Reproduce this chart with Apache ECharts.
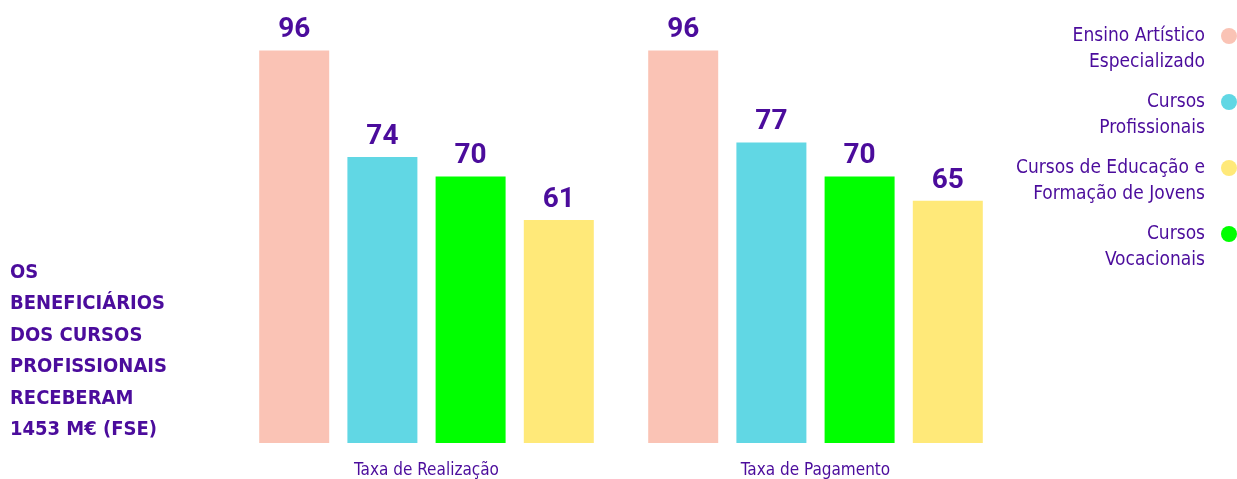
<!DOCTYPE html>
<html>
<head>
<meta charset="utf-8">
<script src="https://cdn.jsdelivr.net/npm/echarts@6/dist/echarts.min.js"></script>
<style>
html, body { margin: 0; padding: 0; background: #fff; }
#chart { width: 1237px; height: 479px; }
</style>
</head>
<body>
<div id="chart"></div>
<script>
// data
var categories = ['Taxa de Realização', 'Taxa de Pagamento'];
var seriesNames = [
    'Ensino Artístico\nEspecializado',
    'Cursos\nProfissionais',
    'Cursos\nVocacionais',
    'Cursos de Educação e\nFormação de Jovens'
];
var ensinoArtistico = [96, 96];
var cursosProfissionais = [74, 77];
var cursosVocacionais = [70, 70];
var cursosEducacao = [61, 65];
var legendOrder = [seriesNames[0], seriesNames[1], seriesNames[3], seriesNames[2]];
var sideText = 'OS\nBENEFICIÁRIOS\nDOS CURSOS\nPROFISSIONAIS\nRECEBERAM\n1453 M€ (FSE)';

var purple = '#4b0c9c';
var narrow = "'Liberation Sans Narrow', 'DejaVu Sans Condensed', sans-serif";
var colors = ['#fac3b5', '#61d7e4', '#00ff00', '#ffe979'];

var chart = echarts.init(document.getElementById('chart'), null, { renderer: 'canvas' });

function bar(name, data, color) {
    return {
        name: name,
        type: 'bar',
        data: data,
        barWidth: 70,
        barGap: '26%',
        itemStyle: { color: color },
        label: {
            show: true,
            position: 'top',
            distance: 6,
            color: purple,
            fontFamily: 'Roboto',
            fontWeight: 'bold',
            fontSize: 28
        }
    };
}

var option = {
    animation: false,
    backgroundColor: '#fff',
    grid: { left: 232, right: 227, top: 31, bottom: 35 },
    xAxis: {
        type: 'category',
        data: categories,
        axisLine: { show: false },
        axisTick: { show: false },
        axisLabel: {
            color: purple,
            fontFamily: narrow,
            fontSize: 17,
            margin: 19
        }
    },
    yAxis: {
        type: 'value',
        min: 15,
        max: 100,
        show: false
    },
    legend: {
        data: legendOrder,
        orient: 'vertical',
        right: 0,
        top: -3,
        padding: 0,
        align: 'right',
        icon: 'circle',
        itemWidth: 16,
        itemHeight: 16,
        itemGap: -12,
        // empty first line keeps the dot level with the first text line
        formatter: function (name) { return ' \n' + name; },
        textStyle: {
            color: purple,
            fontFamily: narrow,
            fontSize: 19,
            lineHeight: 26,
            padding: [0, 11, 0, 0]
        }
    },
    graphic: [{
        type: 'text',
        left: 10,
        top: 257,
        style: {
            text: sideText,
            fill: purple,
            font: "bold 20px 'DejaVu Sans Condensed'",
            lineHeight: 31.5
        }
    }],
    series: [
        bar(seriesNames[0], ensinoArtistico, colors[0]),
        bar(seriesNames[1], cursosProfissionais, colors[1]),
        bar(seriesNames[2], cursosVocacionais, colors[2]),
        bar(seriesNames[3], cursosEducacao, colors[3])
    ]
};

chart.setOption(option);
window.addEventListener('resize', chart.resize);
</script>
</body>
</html>
